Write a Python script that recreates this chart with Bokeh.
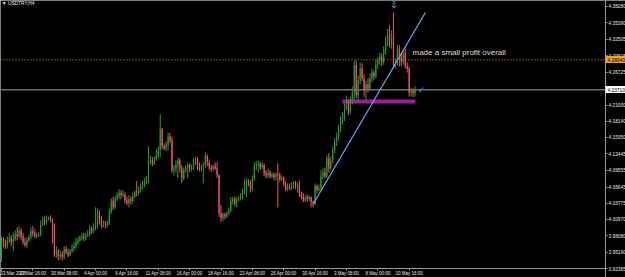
from bokeh.plotting import figure
from bokeh.models import Range1d, FixedTicker, LinearAxis, ColumnDataSource
from bokeh.core.properties import value
from bokeh.layouts import column
from bokeh.embed import file_html
from bokeh.resources import INLINE

# ---------------- data (USDTRY, H4) ----------------
closes = [3.973, 3.968, 3.963, 3.972, 3.977, 3.970, 3.975, 3.984, 3.980, 3.991,
          3.980, 3.970, 3.965, 3.973, 3.979, 3.989, 3.986, 3.980, 3.982, 3.984,
          4.001, 4.008, 4.005, 4.010, 4.014, 4.008, 4.000, 3.947, 3.956, 3.945,
          3.949, 3.944, 3.958, 3.952, 3.947, 3.954, 3.959, 3.963, 3.970, 3.973,
          3.977, 3.980, 3.977, 3.982, 3.984, 3.993, 3.989, 3.996, 4.000, 4.021,
          4.008, 3.998, 4.001, 4.000, 4.003, 4.022, 4.042, 4.031, 4.045, 4.050,
          4.056, 4.052, 4.054, 4.043, 4.038, 4.045, 4.042, 4.050, 4.057, 4.056,
          4.061, 4.068, 4.071, 4.077, 4.080, 4.110, 4.113, 4.108, 4.113, 4.122,
          4.131, 4.169, 4.138, 4.134, 4.140, 4.155, 4.148, 4.096, 4.099, 4.106,
          4.113, 4.099, 4.082, 4.096, 4.099, 4.105, 4.098, 4.101, 4.110, 4.115,
          4.103, 4.098, 4.103, 4.105, 4.120, 4.110, 4.101, 4.098, 4.103, 4.099,
          4.087, 4.021, 4.012, 4.019, 4.015, 4.021, 4.026, 4.042, 4.045, 4.038,
          4.045, 4.047, 4.050, 4.057, 4.070, 4.077, 4.073, 4.063, 4.082, 4.103,
          4.106, 4.108, 4.101, 4.105, 4.091, 4.087, 4.092, 4.085, 4.089, 4.084,
          4.089, 4.087, 4.080, 4.082, 4.071, 4.063, 4.068, 4.064, 4.070, 4.073,
          4.068, 4.071, 4.054, 4.050, 4.043, 4.049, 4.045, 4.049, 4.040, 4.036,
          4.068, 4.061, 4.064, 4.085, 4.092, 4.085, 4.117, 4.099, 4.113, 4.131,
          4.145, 4.155, 4.169, 4.182, 4.187, 4.204, 4.213, 4.197, 4.218, 4.232,
          4.280, 4.227, 4.253, 4.274, 4.257, 4.236, 4.246, 4.239, 4.257, 4.267,
          4.260, 4.281, 4.288, 4.295, 4.285, 4.306, 4.320, 4.334, 4.316, 4.330,
          4.278, 4.285, 4.309, 4.295, 4.285, 4.302, 4.278, 4.274, 4.232, 4.236,
          4.231, 4.238]

opens = [3.942, 3.973, 3.968, 3.963, 3.972, 3.977, 3.970, 3.975, 3.984, 3.980,
         3.991, 3.980, 3.970, 3.965, 3.973, 3.979, 3.989, 3.986, 3.980, 3.982,
         3.984, 4.001, 4.008, 4.005, 4.010, 4.014, 4.008, 4.000, 3.947, 3.956,
         3.945, 3.949, 3.944, 3.958, 3.952, 3.947, 3.954, 3.959, 3.963, 3.970,
         3.973, 3.977, 3.980, 3.977, 3.982, 3.984, 3.993, 3.989, 3.996, 4.000,
         4.021, 4.008, 3.998, 4.001, 4.000, 4.003, 4.022, 4.042, 4.031, 4.045,
         4.050, 4.056, 4.052, 4.054, 4.043, 4.038, 4.045, 4.042, 4.050, 4.057,
         4.056, 4.061, 4.068, 4.071, 4.077, 4.080, 4.110, 4.113, 4.108, 4.113,
         4.122, 4.131, 4.169, 4.138, 4.134, 4.140, 4.155, 4.148, 4.096, 4.099,
         4.106, 4.113, 4.099, 4.082, 4.096, 4.099, 4.105, 4.098, 4.101, 4.110,
         4.115, 4.103, 4.098, 4.103, 4.105, 4.120, 4.110, 4.101, 4.098, 4.103,
         4.099, 4.087, 4.021, 4.012, 4.019, 4.015, 4.021, 4.026, 4.042, 4.045,
         4.038, 4.045, 4.047, 4.050, 4.057, 4.070, 4.077, 4.073, 4.063, 4.082,
         4.103, 4.106, 4.108, 4.101, 4.105, 4.091, 4.087, 4.092, 4.085, 4.089,
         4.084, 4.089, 4.087, 4.080, 4.082, 4.071, 4.063, 4.068, 4.064, 4.070,
         4.073, 4.068, 4.071, 4.054, 4.050, 4.043, 4.049, 4.045, 4.049, 4.040,
         4.036, 4.068, 4.061, 4.064, 4.085, 4.092, 4.085, 4.117, 4.099, 4.113,
         4.131, 4.145, 4.155, 4.169, 4.182, 4.187, 4.204, 4.213, 4.197, 4.218,
         4.232, 4.280, 4.227, 4.253, 4.274, 4.257, 4.236, 4.246, 4.239, 4.257,
         4.267, 4.260, 4.281, 4.288, 4.295, 4.285, 4.306, 4.320, 4.334, 4.316,
         4.330, 4.278, 4.285, 4.309, 4.295, 4.285, 4.302, 4.278, 4.274, 4.232,
         4.236, 4.231]

highs = [3.980, 3.979, 3.975, 3.980, 3.986, 3.982, 3.987, 3.991, 3.996, 3.998,
         3.994, 3.986, 3.977, 3.979, 3.984, 3.996, 3.998, 3.993, 3.987, 3.987,
         4.008, 4.014, 4.015, 4.017, 4.015, 4.017, 4.012, 4.003, 3.963, 3.958,
         3.956, 3.954, 3.963, 3.963, 3.959, 3.958, 3.966, 3.970, 3.977, 3.980,
         3.982, 3.986, 3.986, 3.987, 3.991, 4.000, 3.998, 4.003, 4.031, 4.029,
         4.026, 4.015, 4.008, 4.007, 4.008, 4.029, 4.047, 4.049, 4.052, 4.057,
         4.063, 4.061, 4.061, 4.057, 4.050, 4.052, 4.050, 4.056, 4.061, 4.077,
         4.068, 4.073, 4.077, 4.082, 4.085, 4.138, 4.122, 4.119, 4.120, 4.133,
         4.138, 4.194, 4.170, 4.143, 4.147, 4.162, 4.161, 4.155, 4.105, 4.113,
         4.119, 4.117, 4.105, 4.101, 4.105, 4.110, 4.108, 4.106, 4.117, 4.120,
         4.119, 4.110, 4.106, 4.110, 4.127, 4.124, 4.115, 4.106, 4.106, 4.110,
         4.110, 4.089, 4.035, 4.022, 4.022, 4.024, 4.031, 4.049, 4.050, 4.050,
         4.049, 4.052, 4.056, 4.064, 4.080, 4.082, 4.080, 4.078, 4.087, 4.110,
         4.112, 4.113, 4.110, 4.110, 4.108, 4.096, 4.099, 4.096, 4.092, 4.092,
         4.092, 4.108, 4.092, 4.087, 4.085, 4.077, 4.073, 4.073, 4.075, 4.077,
         4.077, 4.075, 4.078, 4.059, 4.056, 4.052, 4.054, 4.052, 4.050, 4.043,
         4.073, 4.071, 4.071, 4.096, 4.099, 4.101, 4.122, 4.126, 4.120, 4.138,
         4.152, 4.162, 4.176, 4.190, 4.197, 4.213, 4.227, 4.220, 4.225, 4.243,
         4.288, 4.288, 4.262, 4.285, 4.283, 4.264, 4.253, 4.257, 4.266, 4.274,
         4.271, 4.290, 4.295, 4.302, 4.301, 4.313, 4.330, 4.344, 4.350, 4.341,
         4.372, 4.292, 4.316, 4.315, 4.302, 4.306, 4.309, 4.285, 4.278, 4.241,
         4.239, 4.243]

lows = [3.935, 3.961, 3.958, 3.959, 3.968, 3.963, 3.954, 3.972, 3.973, 3.977,
        3.973, 3.966, 3.961, 3.959, 3.970, 3.975, 3.980, 3.977, 3.977, 3.979,
        3.980, 3.998, 4.000, 4.001, 4.008, 4.005, 3.968, 3.944, 3.942, 3.938,
        3.940, 3.938, 3.940, 3.949, 3.944, 3.945, 3.951, 3.954, 3.959, 3.965,
        3.970, 3.973, 3.972, 3.973, 3.979, 3.980, 3.984, 3.986, 3.991, 3.994,
        4.001, 3.994, 3.996, 3.994, 3.996, 4.000, 4.019, 4.026, 4.028, 4.042,
        4.045, 4.045, 4.049, 4.038, 4.035, 4.031, 4.036, 4.038, 4.047, 4.050,
        4.052, 4.057, 4.063, 4.066, 4.071, 4.073, 4.105, 4.103, 4.105, 4.113,
        4.117, 4.119, 4.133, 4.131, 4.129, 4.131, 4.143, 4.091, 4.087, 4.092,
        4.082, 4.092, 4.073, 4.078, 4.092, 4.082, 4.092, 4.094, 4.096, 4.105,
        4.096, 4.094, 4.094, 4.073, 4.099, 4.103, 4.096, 4.092, 4.094, 4.096,
        4.082, 4.014, 4.005, 4.007, 4.010, 4.012, 4.017, 4.022, 4.036, 4.033,
        4.031, 4.042, 4.043, 4.045, 4.054, 4.049, 4.068, 4.057, 4.059, 4.077,
        4.096, 4.092, 4.096, 4.098, 4.085, 4.082, 4.082, 4.082, 4.082, 4.078,
        4.078, 4.031, 4.075, 4.077, 4.068, 4.059, 4.059, 4.061, 4.061, 4.064,
        4.063, 4.057, 4.049, 4.045, 4.040, 4.040, 4.040, 4.042, 4.031, 4.031,
        4.035, 4.056, 4.059, 4.061, 4.080, 4.082, 4.082, 4.092, 4.096, 4.108,
        4.126, 4.138, 4.148, 4.162, 4.176, 4.182, 4.201, 4.192, 4.194, 4.211,
        4.218, 4.222, 4.218, 4.246, 4.252, 4.224, 4.218, 4.232, 4.236, 4.250,
        4.253, 4.257, 4.274, 4.281, 4.278, 4.281, 4.299, 4.313, 4.311, 4.309,
        4.274, 4.274, 4.280, 4.278, 4.278, 4.281, 4.274, 4.267, 4.225, 4.225,
        4.224, 4.225]

xtick_bars = [0, 16, 32, 48, 64, 80, 96, 112, 128, 144, 160, 176, 192, 208]
xtick_labels = ["23 Mar 2018", "27 Mar 16:00", "30 Mar 08:00", "4 Apr 00:00",
                "6 Apr 16:00", "11 Apr 08:00", "16 Apr 00:00", "18 Apr 16:00",
                "23 Apr 08:00", "26 Apr 00:00", "30 Apr 16:00", "3 May 08:00",
                "8 May 00:00", "10 May 16:00"]
ytick_labels = ["4.38280", "4.35390", "4.32505", "4.29615", "4.26725", "4.23835",
                "4.21000", "4.18140", "4.15350", "4.12445", "4.09555", "4.06645",
                "4.03775", "4.00970", "3.98080", "3.95190", "3.92385"]

symbol_text = "\u25bc USDTRY,H4"
note_text = "made a small profit overall"
level_price = 4.2894          # orange dotted level
level_text = "4.28940"
bid_price = 4.2371            # current bid
bid_text = "4.23710"
trend_bars = [159.2, 216.3]
trend_prices = [4.0377, 4.3723]
zone_bars = [174.0, 211.2]
zone_prices = [4.2129, 4.2199]

# ---------------- layout constants ----------------
BAR_PX = 1.96
W, H = 625, 277
SCALE_X_PX = 605                      # price scale position
TIME_Y_PX = 268                       # time scale position
PRICE_PER_PX = 0.0017517
X0 = -0.5
X_END = X0 + W / BAR_PX
X_AX = X0 + SCALE_X_PX / BAR_PX
Y_HI = 4.39331
Y_AX = Y_HI - TIME_Y_PX * PRICE_PER_PX
Y_LO = Y_HI - H * PRICE_PER_PX
BULL, BEAR = "#2a9a2a", "#f0506e"
FONT = "Liberation Sans"
AX_GRAY = "#9a9a9a"
TXT = "#e6e6e6"

idx = list(range(len(closes)))
colors = [BULL if c >= o else BEAR for o, c in zip(opens, closes)]
src = ColumnDataSource(dict(
    x=idx, o=opens, h=highs, l=lows, c=closes,
    top=[max(o, c) for o, c in zip(opens, closes)],
    bot=[min(o, c) for o, c in zip(opens, closes)],
    color=colors))

p = figure(frame_width=W, frame_height=H,
           x_range=Range1d(X0, X_END), y_range=Range1d(Y_LO, Y_HI),
           output_backend="svg", toolbar_location=None,
           x_axis_location=None, y_axis_location=None,
           background_fill_color="black", border_fill_color="black",
           outline_line_color=None, min_border=0)
p.grid.visible = False

# horizontal levels (drawn up to the price scale)
p.segment(x0=[X0], y0=[level_price], x1=[X_AX], y1=[level_price],
          line_color="#e8962a", line_dash="1 2", line_width=1)
p.segment(x0=[X0], y0=[bid_price], x1=[X_AX], y1=[bid_price],
          line_color="#6a6e74", line_width=1.6)

# purple zone
p.quad(left=[zone_bars[0]], right=[zone_bars[1]], bottom=[zone_prices[0]],
       top=[zone_prices[1]], fill_color="#9a1c9a", line_color=None)

# candles
p.segment(x0="x", y0="l", x1="x", y1="h", source=src, line_color="color", line_width=1)
p.vbar(x="x", width=0.6, top="top", bottom="bot", source=src,
       fill_color="color", line_color=None)

# trend line
p.line(trend_bars, trend_prices, line_color="#6aa8ff", line_width=1.2)

# texts / markers
p.text(x=[0.2], y=[4.3885], text=[symbol_text],
       text_font=value("'Liberation Sans', 'DejaVu Sans'"),
       text_font_size="4.8px", text_color="#eeeeee", text_baseline="middle")
p.text(x=[209.7], y=[4.3022], text=[note_text], text_font=value(FONT),
       text_font_size="8px", text_color="#dcdcdc", text_baseline="middle")
p.text(x=[200.3], y=[4.3853], text=["\u21e9"], text_font=value("DejaVu Sans"),
       text_font_size="9px", text_color="#9cc2ff", text_baseline="middle",
       text_align="center")
p.text(x=[214.3], y=[4.2374], text=["\u2713"], text_font=value("DejaVu Sans"),
       text_font_size="9px", text_color="#2a8cff", text_baseline="middle",
       text_align="center")

# time scale pinned at the bottom of the chart area
xa = LinearAxis(fixed_location=Y_AX, ticker=FixedTicker(ticks=xtick_bars))
xa.major_label_overrides = {b: t for b, t in zip(xtick_bars, xtick_labels)}
xa.bounds = (X0, X_AX)
xa.major_label_text_align = "left"
xa.major_label_text_font = FONT
xa.major_label_text_font_size = "4.5px"
xa.major_label_text_color = TXT
xa.major_label_standoff = 0
xa.major_tick_out = 2
xa.major_tick_in = 0
xa.minor_tick_out = 0
xa.minor_tick_in = 0
xa.axis_line_color = AX_GRAY
xa.major_tick_line_color = AX_GRAY
p.add_layout(xa, "below")

# price scale pinned at the right part of the chart area
ytick_vals = [float(t) for t in ytick_labels]
ya = LinearAxis(fixed_location=X_AX, ticker=FixedTicker(ticks=ytick_vals))
ya.major_label_overrides = {v: t for v, t in zip(ytick_vals, ytick_labels)}
ya.major_label_text_font = FONT
ya.major_label_text_font_size = "4.8px"
ya.major_label_text_color = TXT
ya.major_label_standoff = 1
ya.major_tick_out = 2
ya.major_tick_in = 0
ya.minor_tick_out = 0
ya.minor_tick_in = 0
ya.axis_line_color = AX_GRAY
ya.major_tick_line_color = AX_GRAY
p.add_layout(ya, "right")

# price boxes on the price scale
for price, txt, bg in [(level_price, level_text, "#f0a028"),
                       (bid_price, bid_text, "#ffffff")]:
    ax = LinearAxis(fixed_location=X_AX, ticker=FixedTicker(ticks=[price]))
    ax.major_label_overrides = {price: txt}
    ax.axis_line_color = None
    ax.major_tick_in = 0
    ax.major_tick_out = 20
    ax.major_tick_line_width = 7
    ax.major_tick_line_color = bg
    ax.minor_tick_in = 0
    ax.minor_tick_out = 0
    ax.major_label_standoff = -18
    ax.major_label_text_font = FONT
    ax.major_label_text_font_size = "4.8px"
    ax.major_label_text_color = "black"
    p.add_layout(ax, "right")

layout = column(p, width=W, height=H, styles={"overflow": "hidden"})
open("out.html", "w").write(file_html(layout, INLINE))
